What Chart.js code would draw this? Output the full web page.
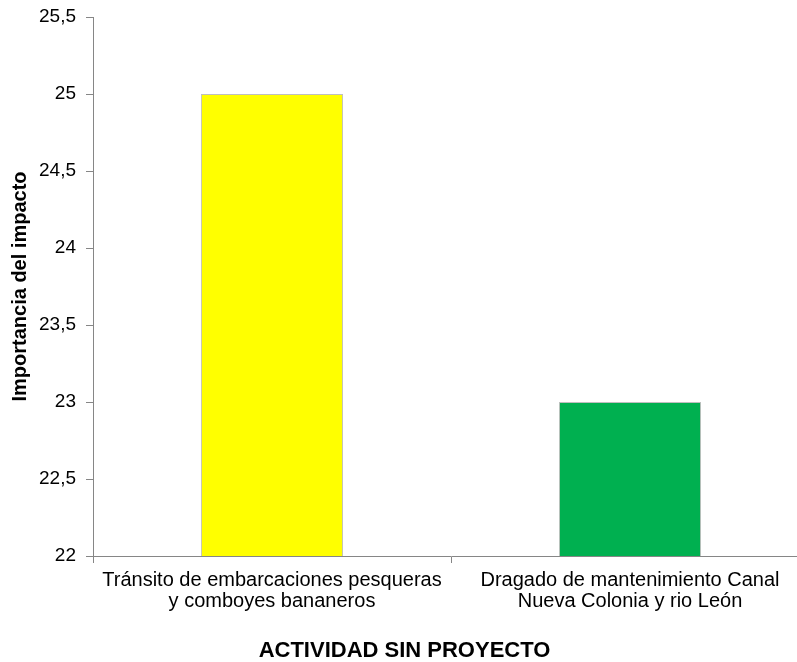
<!DOCTYPE html>
<html>
<head>
<meta charset="utf-8">
<script src="https://cdn.jsdelivr.net/npm/chart.js@4/dist/chart.umd.min.js"></script>
<style>
  html, body { margin: 0; padding: 0; background: #fff; overflow: hidden; width: 797px; height: 662px; }
  #wrap { width: 812px; height: 662px; }
</style>
</head>
<body>
<div id="wrap"><canvas id="c" width="812" height="662"></canvas></div>
<script>
const categories = [
  ["Tránsito de embarcaciones pesqueras", "y comboyes bananeros"],
  ["Dragado de mantenimiento Canal", "Nueva Colonia y rio León"]
];
const values = [25, 23];
const barColors = ["#FFFF00", "#00B050"];
const yMin = 22, yMax = 25.5, yStep = 0.5;
const yTitle = "Importancia del impacto";
const xTitle = "ACTIVIDAD SIN PROYECTO";

const FONT = "'Liberation Sans', Arial, sans-serif";
const AXIS = "#868686";

new Chart(document.getElementById('c'), {
  type: 'bar',
  data: {
    labels: categories,
    datasets: [{
      data: values,
      backgroundColor: barColors,
      borderColor: "#BFBFBF",
      borderWidth: 1,
      barPercentage: 0.397,
      categoryPercentage: 1
    }]
  },
  options: {
    responsive: false,
    animation: false,
    devicePixelRatio: 1,
    layout: { padding: { top: 0, left: 0, right: 3, bottom: 0 } },
    plugins: {
      legend: { display: false },
      tooltip: { enabled: false },
      title: {
        display: true,
        position: 'bottom',
        text: xTitle,
        color: '#000',
        font: { family: FONT, size: 22, weight: 'bold', lineHeight: 1 },
        padding: { top: 0, bottom: 0 }
      }
    },
    scales: {
      x: {
        grid: { display: true, drawOnChartArea: false, drawTicks: true, tickLength: 7, color: AXIS, offset: true },
        border: { display: true, color: AXIS, width: 1 },
        ticks: { color: '#000', font: { family: FONT, size: 20, lineHeight: 1.05 }, padding: 7, maxRotation: 0, autoSkip: false },
        afterFit: (s) => { s.height = 84; }
      },
      y: {
        min: yMin, max: yMax,
        grid: { display: true, drawOnChartArea: false, drawTicks: true, tickLength: 7, color: AXIS },
        border: { display: true, color: AXIS, width: 1 },
        ticks: {
          stepSize: yStep,
          color: '#000',
          font: { family: FONT, size: 19, lineHeight: 0.737 },
          padding: 10,
          callback: (v) => String(v).replace('.', ',')
        },
        title: {
          display: true,
          text: yTitle,
          color: '#000',
          font: { family: FONT, size: 20, weight: 'bold', lineHeight: 1 },
          padding: { top: 10, bottom: 0 }
        },
        afterFit: (s) => { s.width = 93; }
      }
    }
  }
});
</script>
</body>
</html>
